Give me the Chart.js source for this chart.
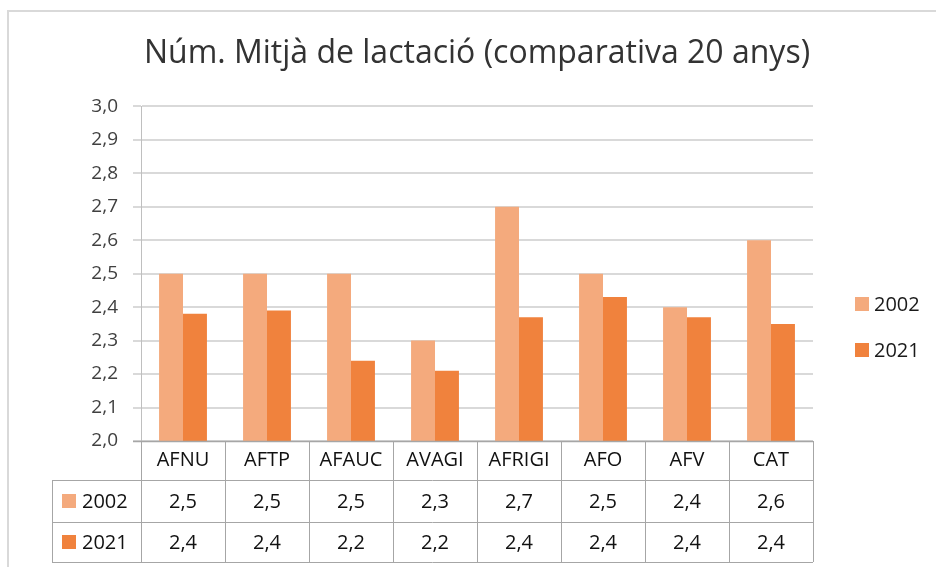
<!DOCTYPE html>
<html lang="ca">
<head>
<meta charset="utf-8">
<title>Núm. Mitjà de lactació</title>
<script src="https://cdn.jsdelivr.net/npm/chart.js@4/dist/chart.umd.min.js"></script>
<style>
  html, body { margin: 0; padding: 0; background: #fff; }
  #wrap { width: 936px; height: 567px; }
</style>
</head>
<body>
<div id="wrap"><canvas id="lactChart" width="936" height="567"></canvas></div>
<script>
// ─── DATA ─────────────────────────────────────────
const categories = ['AFNU', 'AFTP', 'AFAUC', 'AVAGI', 'AFRIGI', 'AFO', 'AFV', 'CAT'];
const years      = ['2002', '2021'];
const values2002 = [2.5, 2.5, 2.5, 2.3, 2.7, 2.5, 2.4, 2.6];
const values2021 = [2.38, 2.39, 2.24, 2.21, 2.37, 2.43, 2.37, 2.35];
const yTicks     = [2.0, 2.1, 2.2, 2.3, 2.4, 2.5, 2.6, 2.7, 2.8, 2.9, 3.0];

const COLORS = ['#f4aa7d', '#f0823d'];
const FONT   = "'Open Sans', sans-serif";

// decimal comma, one digit (as Excel shows it)
const fmt = v => v.toFixed(1).replace('.', ',');

// ─── PLUGIN: frame, data table, side legend ───────
const excelExtras = {
  id: 'excelExtras',
  beforeDraw(chart) {
    const { ctx } = chart;
    ctx.save();
    ctx.strokeStyle = '#d9d9d9';
    ctx.lineWidth = 2;
    ctx.strokeRect(8, 11, 1000, 1000);
    ctx.restore();
  },
  afterDraw(chart) {
    const { ctx, chartArea } = chart;
    const x = chart.scales.x;
    const half = (x.getPixelForValue(1) - x.getPixelForValue(0)) / 2;
    const left = chartArea.left, right = chartArea.right, top = chartArea.bottom;
    const rowH = [39, 42, 40];
    const rows = [top, top + rowH[0], top + rowH[0] + rowH[1], top + rowH[0] + rowH[1] + rowH[2]];
    const labelLeft = 52;

    ctx.save();
    // axis line
    ctx.strokeStyle = '#a6a6a6';
    ctx.lineWidth = 1.5;
    ctx.beginPath();
    ctx.moveTo(left - 8, top + 0.5); ctx.lineTo(right, top + 0.5);
    ctx.stroke();

    // table grid
    ctx.strokeStyle = '#a6a6a6';
    ctx.lineWidth = 1;
    ctx.beginPath();
    for (let i = 1; i < rows.length; i++) {
      const yy = Math.round(rows[i]) + 0.5;
      ctx.moveTo(labelLeft, yy); ctx.lineTo(right, yy);
    }
    categories.forEach((c, i) => {
      const xx = Math.round(x.getPixelForValue(i) - half) + 0.5;
      ctx.moveTo(xx, top); ctx.lineTo(xx, rows[3]);
    });
    ctx.moveTo(Math.round(right) + 0.5, top); ctx.lineTo(Math.round(right) + 0.5, rows[3]);
    ctx.moveTo(labelLeft + 0.5, rows[1]); ctx.lineTo(labelLeft + 0.5, rows[3]);
    ctx.stroke();

    // table text
    ctx.fillStyle = '#111';
    ctx.font = '20px ' + FONT;
    ctx.textAlign = 'center';
    ctx.textBaseline = 'middle';
    const series = chart.data.datasets;
    categories.forEach((c, i) => {
      const cx = x.getPixelForValue(i);
      ctx.fillText(c, cx, (rows[0] + rows[1]) / 2);
      series.forEach((ds, j) => {
        ctx.fillText(fmt(ds.data[i]), cx, (rows[j + 1] + rows[j + 2]) / 2 + 1);
      });
    });

    // row headers with keys
    ctx.textAlign = 'left';
    series.forEach((ds, j) => {
      const cy = (rows[j + 1] + rows[j + 2]) / 2;
      ctx.fillStyle = ds.backgroundColor;
      ctx.fillRect(62, cy - 7, 14, 14);
      ctx.fillStyle = '#111';
      ctx.fillText(ds.label, 82, cy + 1);
    });

    // legend on the right
    series.forEach((ds, j) => {
      const cy = 304 + j * 46;
      ctx.fillStyle = ds.backgroundColor;
      ctx.fillRect(855, cy - 7, 14, 14);
      ctx.fillStyle = '#1a1a1a';
      ctx.fillText(ds.label, 874, cy + 1);
    });
    ctx.restore();
  }
};

// ─── CHART ────────────────────────────────────────
new Chart(document.getElementById('lactChart'), {
  type: 'bar',
  data: {
    labels: categories,
    datasets: [
      { label: years[0], data: values2002, backgroundColor: COLORS[0] },
      { label: years[1], data: values2021, backgroundColor: COLORS[1] }
    ]
  },
  options: {
    responsive: false,
    animation: false,
    layout: { padding: { left: 0, right: 123, top: 0, bottom: 126 } },
    datasets: { bar: { categoryPercentage: 0.57, barPercentage: 1 } },
    plugins: {
      legend: { display: false },
      tooltip: { enabled: false },
      title: {
        display: true,
        fullSize: false,
        text: 'Núm. Mitjà de lactació (comparativa 20 anys)',
        color: '#333',
        font: { family: FONT, size: 32, weight: 'normal' },
        padding: { top: 35, bottom: 33 }
      }
    },
    scales: {
      x: { display: false },
      y: {
        min: 2.0,
        max: 3.0,
        afterFit: s => { s.width = 141; },
        afterBuildTicks: s => { s.ticks = yTicks.map(v => ({ value: v })); },
        border: { display: true, color: '#bfbfbf', width: 1 },
        grid: { color: '#d9d9d9', lineWidth: 2, tickLength: 8 },
        ticks: {
          padding: 15,
          color: '#404040',
          font: { family: FONT, size: 19 },
          callback: v => fmt(v)
        }
      }
    }
  },
  plugins: [excelExtras]
});
</script>
</body>
</html>
